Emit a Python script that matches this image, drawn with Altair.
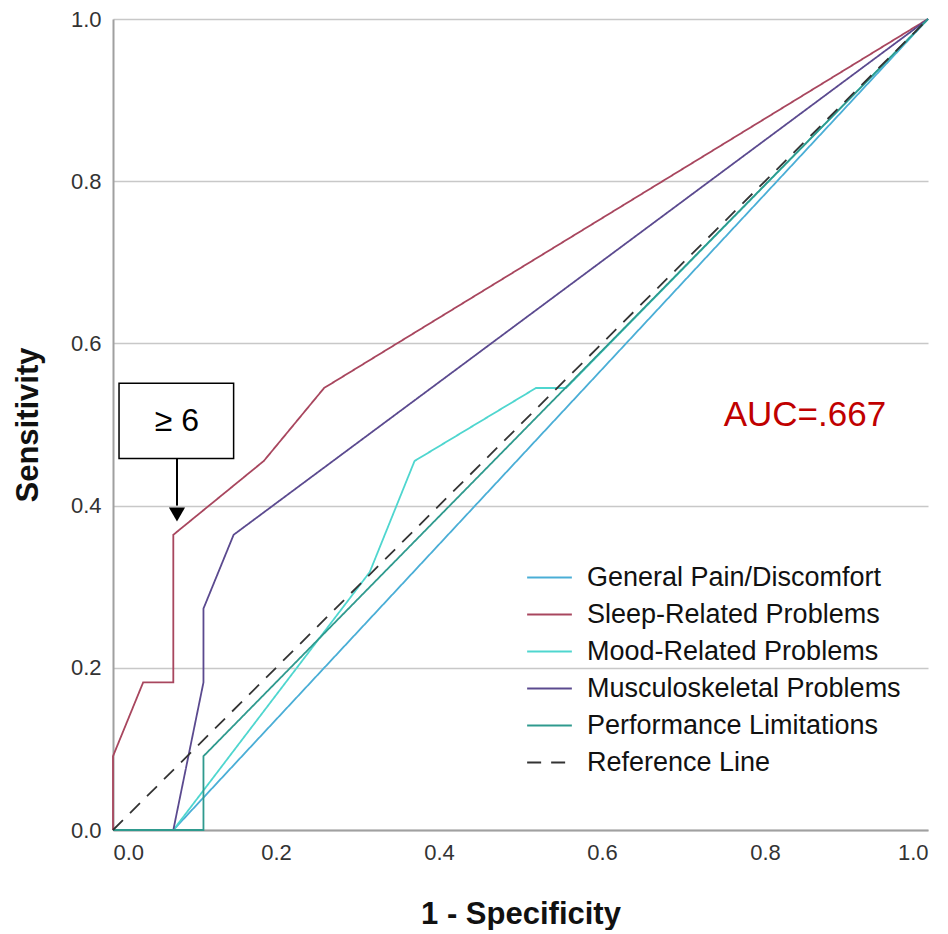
import altair as alt
import pandas as pd

series = ["General Pain/Discomfort", "Sleep-Related Problems", "Mood-Related Problems",
          "Musculoskeletal Problems", "Performance Limitations", "Reference Line"]
colors = ["#4aaed6", "#a8465e", "#4fd6cf", "#5b4a8f", "#2f9a8e", "#333333"]

general_x = [0.0, 0.074, 1.0]
general_y = [0.0, 0.0, 1.0]
sleep_x = [0.0, 0.0, 0.037, 0.074, 0.074, 0.185, 0.259, 1.0]
sleep_y = [0.0, 0.091, 0.182, 0.182, 0.364, 0.455, 0.545, 1.0]
mood_x = [0.0, 0.074, 0.315, 0.370, 0.519, 0.556, 1.0]
mood_y = [0.0, 0.0, 0.318, 0.455, 0.545, 0.545, 1.0]
musc_x = [0.0, 0.074, 0.111, 0.111, 0.148, 1.0]
musc_y = [0.0, 0.0, 0.182, 0.273, 0.364, 1.0]
perf_x = [0.0, 0.111, 0.111, 1.0]
perf_y = [0.0, 0.0, 0.091, 1.0]
ref_x = [0.0, 1.0]
ref_y = [0.0, 1.0]

ticks = [0.0, 0.2, 0.4, 0.6, 0.8, 1.0]

# annotation values
box_x = [0.0074]
box_x2 = [0.148]
box_y = [0.458]
box_y2 = [0.551]
box_label = ["\u2265 6"]
arrow_x = [0.0785]
arrow_y_top = [0.458]
arrow_y_bottom = [0.40]
arrow_head_y = [0.389]
auc_x = [0.849]
auc_y = [0.512]
auc_label = ["AUC=.667"]

rows = []
for name, xs, ys in zip(series,
                        [general_x, sleep_x, mood_x, musc_x, perf_x, ref_x],
                        [general_y, sleep_y, mood_y, musc_y, perf_y, ref_y]):
    for i, (xv, yv) in enumerate(zip(xs, ys)):
        rows.append({"series": name, "x": xv, "y": yv, "order": i})
df = pd.DataFrame(rows)

FONT = "Liberation Sans, Arial, sans-serif"

xscale = alt.Scale(domain=[0, 1], nice=False, zero=False)
yscale = alt.Scale(domain=[0, 1], nice=False, zero=False)

legend = alt.Legend(
    title=None, orient="none", legendX=413, legendY=535,
    symbolType="stroke", symbolSize=2000, symbolStrokeWidth=2,
    labelFontSize=27, labelFont=FONT, labelColor="#111111",
    rowPadding=0, labelOffset=14, labelLimit=500,
)

lines = alt.Chart(df).mark_line(strokeWidth=1.8).encode(
    x=alt.X("x:Q", scale=xscale, title="1 - Specificity",
            axis=alt.Axis(values=ticks, format=".1f", grid=False)),
    y=alt.Y("y:Q", scale=yscale, title="Sensitivity",
            axis=alt.Axis(values=ticks, format=".1f", grid=True)),
    color=alt.Color("series:N", scale=alt.Scale(domain=series, range=colors), legend=legend),
    strokeDash=alt.StrokeDash("series:N",
                              scale=alt.Scale(domain=series,
                                              range=[[1, 0]] * 5 + [[14, 10]]),
                              legend=legend),
    order="order:Q",
)

box_df = pd.DataFrame({"x": box_x, "x2": box_x2, "y": box_y, "y2": box_y2,
                       "label": box_label, "cx": arrow_x,
                       "cy": [(box_y[0] + box_y2[0]) / 2]})
box = alt.Chart(box_df).mark_rect(fill="white", stroke="black", strokeWidth=1.5).encode(
    x="x:Q", x2="x2:Q", y="y:Q", y2="y2:Q")
box_text = alt.Chart(box_df).mark_text(fontSize=32, font=FONT, color="black",
                                       align="center", baseline="middle").encode(
    x="cx:Q", y="cy:Q", text="label:N")

arrow_df = pd.DataFrame({"x": arrow_x, "y": arrow_y_top, "y2": arrow_y_bottom,
                         "hy": arrow_head_y})
arrow = alt.Chart(arrow_df).mark_rule(color="black", strokeWidth=2).encode(
    x="x:Q", y="y:Q", y2="y2:Q")
head = alt.Chart(arrow_df).mark_point(shape="triangle-down", filled=True, color="black",
                                      size=260, opacity=1).encode(x="x:Q", y="hy:Q")

auc_df = pd.DataFrame({"x": auc_x, "y": auc_y, "label": auc_label})
auc = alt.Chart(auc_df).mark_text(fontSize=35, font=FONT, color="#c00000",
                                  align="center", baseline="middle").encode(
    x="x:Q", y="y:Q", text="label:N")

chart = alt.layer(lines, box, box_text, arrow, head, auc).properties(
    width=815, height=811,
    autosize=alt.AutoSizeParams(type="none"),
    padding={"left": 105, "top": 11, "right": 12, "bottom": 100},
).configure_view(stroke=None).configure_axis(
    labelFont=FONT, labelFontSize=22, labelColor="#333333",
    titleFont=FONT, titleFontSize=31, titleFontWeight="bold", titleColor="#111111",
    domainColor="#a0a0a0", domainWidth=2, ticks=False, labelPadding=12,
    gridColor="#c8c8c8", gridWidth=1.5,
).configure_axisY(titlePadding=26).configure_axisX(titlePadding=36)

chart.save("out.html", embed_options={"renderer": "svg", "actions": False})
